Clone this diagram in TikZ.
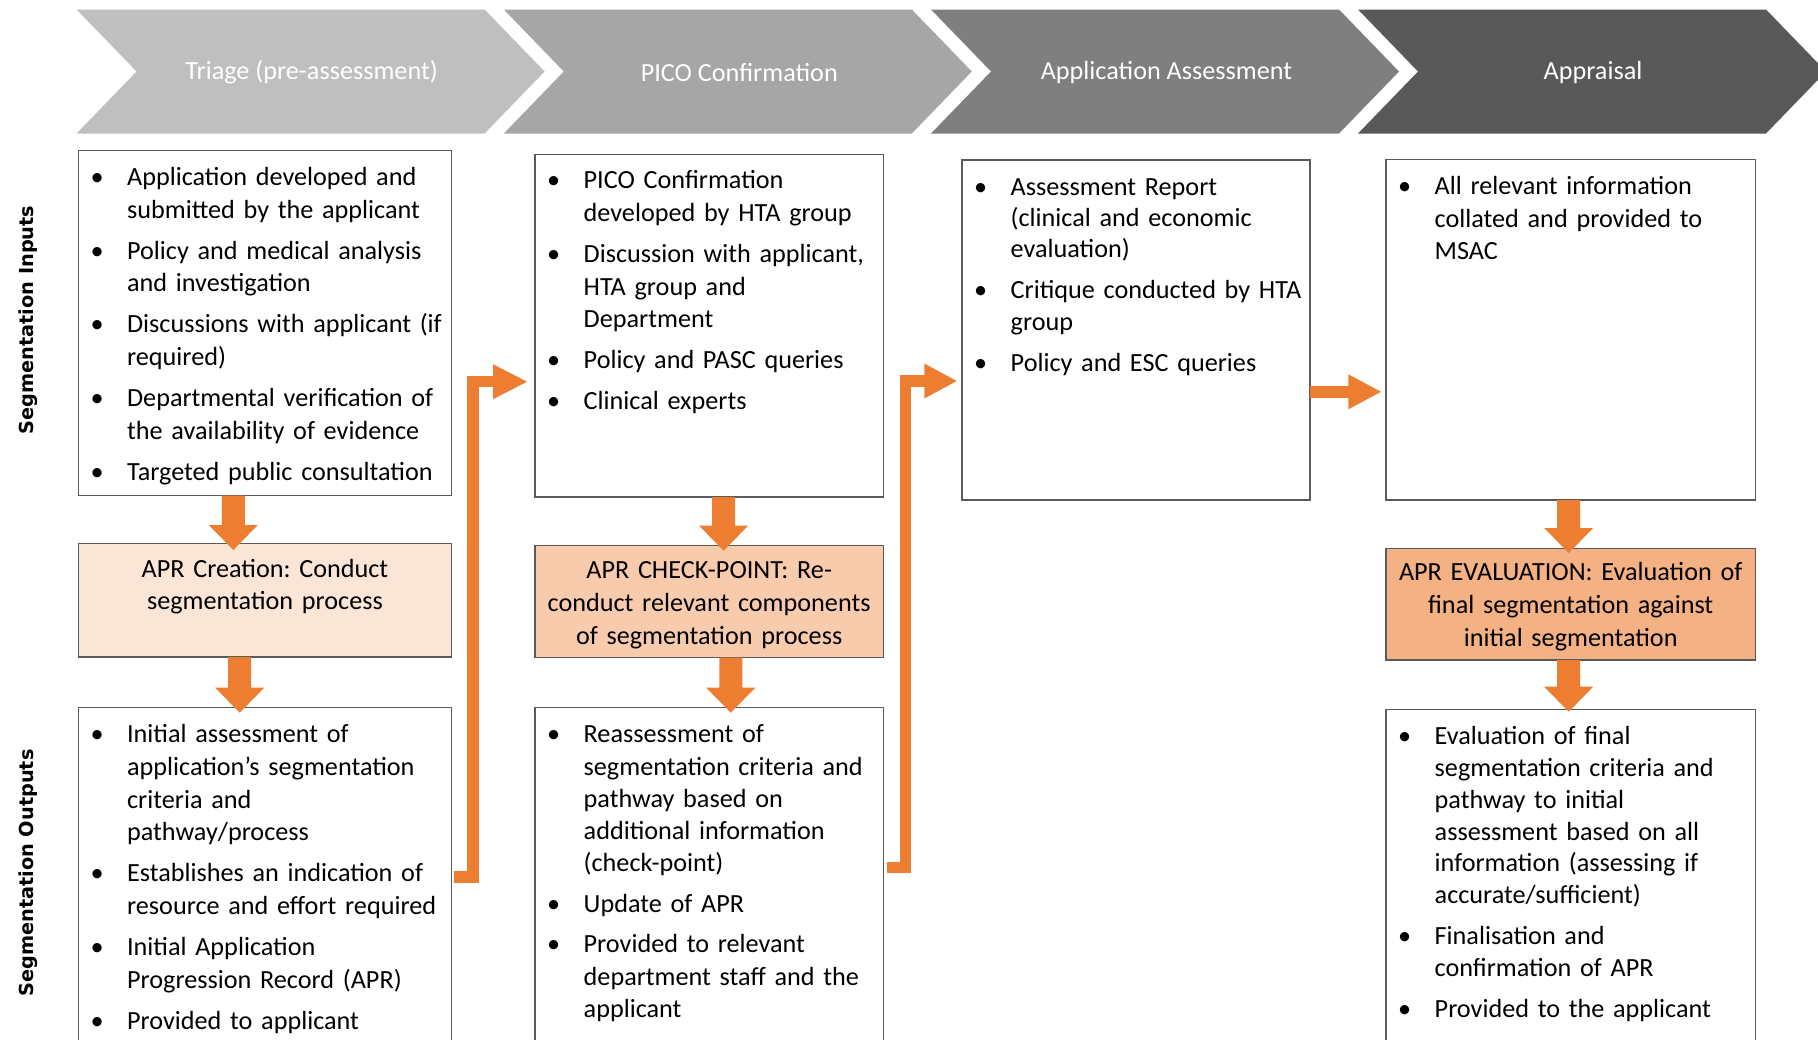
\documentclass[tikz,border=0pt]{standalone}
\usepackage{fontspec}
\setmainfont{Carlito}
\newfontfamily\labfont{DejaVu Sans}
\usetikzlibrary{calc}
\definecolor{chA}{HTML}{BFBFBF}
\definecolor{chB}{HTML}{A6A6A6}
\definecolor{chC}{HTML}{7F7F7F}
\definecolor{chD}{HTML}{595959}
\definecolor{pchA}{HTML}{FBE5D6}
\definecolor{pchB}{HTML}{F8CBAD}
\definecolor{pchC}{HTML}{F4B183}
\definecolor{org}{HTML}{ED7D31}
\definecolor{edge}{HTML}{5A5A5A}
\frenchspacing
\newcommand{\bitem}[1]{\par\noindent\hangindent=36.5pt\hangafter=1\strut\makebox[36.5pt][l]{\textbullet}#1\par}
\newcommand{\vblock}[2]{\fill[org] let \p1=#1, \p2=#2 in
  (\x1-11.5pt,\y1) -- (\x1+11.5pt,\y1) -- (\x1+11.5pt,\y2+25pt) -- (\x1+24.5pt,\y2+25pt) -- (\x1,\y2)
  -- (\x1-24.5pt,\y2+25pt) -- (\x1-11.5pt,\y2+25pt) -- cycle;}
\newcommand{\rhead}[2]{\fill[org] let \p1=#1, \p2=#2 in
  (\x1,\y2+17.5pt) -- (\x2,\y2) -- (\x1,\y2-17.5pt) -- cycle;}
\begin{document}
\begin{tikzpicture}[x=1pt,y=-1pt,
  bodyfont/.style={font=\frenchspacing\fontsize{26.2}{32.7}\selectfont},
  ttl/.style={bodyfont,text=white,inner sep=0pt},
  frame/.style={draw=edge,line width=1.3pt,anchor=north west,inner sep=0pt,outer sep=0pt},
  listtext/.style={bodyfont,anchor=north west,inner sep=0pt,text width=420pt,
    execute at begin node={\setlength{\parskip}{8.3pt}}},
  tightlist/.style 2 args={listtext,font=\frenchspacing\fontsize{26.2}{#1}\selectfont,
    execute at begin node={\setlength{\parskip}{#2}}},
  ctext/.style={bodyfont,anchor=north,inner sep=0pt,text width=380pt,align=center},
  labtext/.style={font=\labfont\bfseries\fontsize{19.3}{22}\selectfont,rotate=90,inner sep=0pt},
  shaft/.style={draw=org,line width=11.5pt}]
\useasboundingbox (0,0) rectangle (1818,1039);
\fill[white] (0,0) rectangle (1818,1039);
\clip (0,0) rectangle (1818,1039);

% phase chevrons
\fill[chA] (76.6,9.5) -- ++(408,0) -- ++(60,62) -- ++(-60,62) -- ++(-408,0) -- ++(60,-62) -- cycle;
\fill[chB] (503.8,9.5) -- ++(408,0) -- ++(60,62) -- ++(-60,62) -- ++(-408,0) -- ++(60,-62) -- cycle;
\fill[chC] (931,9.5) -- ++(408,0) -- ++(60,62) -- ++(-60,62) -- ++(-408,0) -- ++(60,-62) -- cycle;
\fill[chD] (1358,9.5) -- ++(408,0) -- ++(60,62) -- ++(-60,62) -- ++(-408,0) -- ++(60,-62) -- cycle;
\node[ttl] (t1) at (311.6,72.5) {Triage (pre-assessment)};
\node[ttl] (t2) at (739.3,72.5) {PICO Confirmation};
\node[ttl] (t3) at (1166.5,72.5) {Application Assessment};
\node[ttl] (t4) at (1593,72.5) {Appraisal};

% row labels
\node[labtext] (lab1) at (28.5,320) {Segmentation Inputs};
\node[labtext] (lab2) at (28.5,873) {Segmentation Outputs};

% boxes
\node[frame,minimum width=373.1pt,minimum height=345pt] (in1) at (78.4,150.7) {};
\node[frame,minimum width=348.3pt,minimum height=342.3pt] (in2) at (535,154.7) {};
\node[frame,minimum width=348pt,minimum height=340pt] (in3) at (962,160) {};
\node[frame,minimum width=369.4pt,minimum height=340.3pt] (in4) at (1386,159.7) {};
\node[frame,fill=pchA,minimum width=373.1pt,minimum height=113.2pt] (cr1) at (78.4,543.8) {};
\node[frame,fill=pchB,minimum width=348.3pt,minimum height=112.4pt] (cp2) at (535,545.3) {};
\node[frame,fill=pchC,minimum width=369.4pt,minimum height=111.7pt] (ev4) at (1386,548.3) {};
\node[frame,minimum width=373.1pt,minimum height=360pt] (out1) at (78.4,707.3) {};
\node[frame,minimum width=348.3pt,minimum height=360pt] (out2) at (535,707.3) {};
\node[frame,minimum width=369.4pt,minimum height=360pt] (out4) at (1386,709.3) {};

% box texts
\node[listtext] (in1t) at ($(in1.north west)+(12,-6.4)$) {%
\bitem{Application developed and\newline submitted by the applicant}
\bitem{Policy and medical analysis\newline and investigation}
\bitem{Discussions with applicant (if\newline required)}
\bitem{Departmental verification of\newline the availability of evidence}
\bitem{Targeted public consultation}};
\node[listtext] (in2t) at ($(in2.north west)+(12,-7.1)$) {%
\bitem{PICO Confirmation\newline developed by HTA group}
\bitem{Discussion with applicant,\newline HTA group and\newline Department}
\bitem{Policy and PASC queries}
\bitem{Clinical experts}};
\node[tightlist={31.3pt}{9.7pt}] (in3t) at ($(in3.north west)+(12,-6.0)$) {%
\bitem{Assessment Report\newline (clinical and economic\newline evaluation)}
\bitem{Critique conducted by HTA\newline group}
\bitem{Policy and ESC queries}};
\node[listtext] (in4t) at ($(in4.north west)+(12,-6.5)$) {%
\bitem{All relevant information\newline collated and provided to\newline MSAC}};
\node[ctext] (cr1t) at ($(cr1.north)+(0,10.4)$) {\strut APR Creation: Conduct\\segmentation process};
\node[ctext] (cp2t) at ($(cp2.north)+(0,10.6)$) {\strut APR CHECK-POINT: Re-\\conduct relevant components\\of segmentation process};
\node[ctext] (ev4t) at ($(ev4.north)+(0,9.4)$) {\strut APR EVALUATION: Evaluation of\\final segmentation against\\initial segmentation};
\node[listtext] (out1t) at ($(out1.north west)+(12,-5.8)$) {%
\bitem{Initial assessment of\newline application’s segmentation\newline criteria and\newline pathway/process}
\bitem{Establishes an indication of\newline resource and effort required}
\bitem{Initial Application\newline Progression Record (APR)}
\bitem{Provided to applicant}};
\node[tightlist={32.1pt}{8.7pt}] (out2t) at ($(out2.north west)+(12,-5.4)$) {%
\bitem{Reassessment of\newline segmentation criteria and\newline pathway based on\newline additional information\newline (check-point)}
\bitem{Update of APR}
\bitem{Provided to relevant\newline department staff and the\newline applicant}};
\node[tightlist={31.8pt}{9.2pt}] (out4t) at ($(out4.north west)+(12,-5.8)$) {%
\bitem{Evaluation of final\newline segmentation criteria and\newline pathway to initial\newline assessment based on all\newline information (assessing if\newline accurate/sufficient)}
\bitem{Finalisation and\newline confirmation of APR}
\bitem{Provided to the applicant}};

% vertical block arrows
\vblock{($(in1.south west)+(154.9,0)$)}{($(cr1.north west)+(154.9,6.2)$)}
\vblock{($(cr1.south west)+(161.3,0)$)}{($(out1.north west)+(161.3,5.4)$)}
\vblock{($(in2.south west)+(188.6,0)$)}{($(cp2.north west)+(188.6,5.4)$)}
\vblock{($(cp2.south west)+(195.8,0)$)}{($(out2.north west)+(195.8,5.4)$)}
\vblock{($(in4.south west)+(182.7,0)$)}{($(ev4.north west)+(182.7,4.7)$)}
\vblock{($(ev4.south west)+(182.7,0)$)}{($(out4.north west)+(182.7,2.4)$)}

% horizontal arrow assessment -> appraisal
\coordinate (h1s) at ($(in3.north east)+(0,231.8)$);
\coordinate (h1b) at (1348.3,391.8);
\coordinate (h1t) at ($(in4.north west)+(-5,232.1)$);
\draw[shaft] (h1s) -- ($(h1b)+(1,0)$);
\rhead{(h1b)}{(h1t)}

% elbow arrows
\coordinate (e1s) at ($(out1.north east)+(2.3,169.7)$);
\coordinate (e1c) at (472.8,381.7);
\coordinate (e1b) at (493,381.7);
\coordinate (e1t) at ($(in2.north west)+(-8,227)$);
\draw[shaft] (e1s) -| (e1c) -- ($(e1b)+(1,0)$);
\rhead{(e1b)}{(e1t)}

\coordinate (e2s) at ($(out2.north east)+(3.4,160.2)$);
\coordinate (e2c) at (905.5,381);
\coordinate (e2b) at (924.3,381);
\coordinate (e2t) at ($(in3.north west)+(-5.3,221)$);
\draw[shaft] (e2s) -| (e2c) -- ($(e2b)+(1,0)$);
\rhead{(e2b)}{(e2t)}
\end{tikzpicture}
\end{document}
